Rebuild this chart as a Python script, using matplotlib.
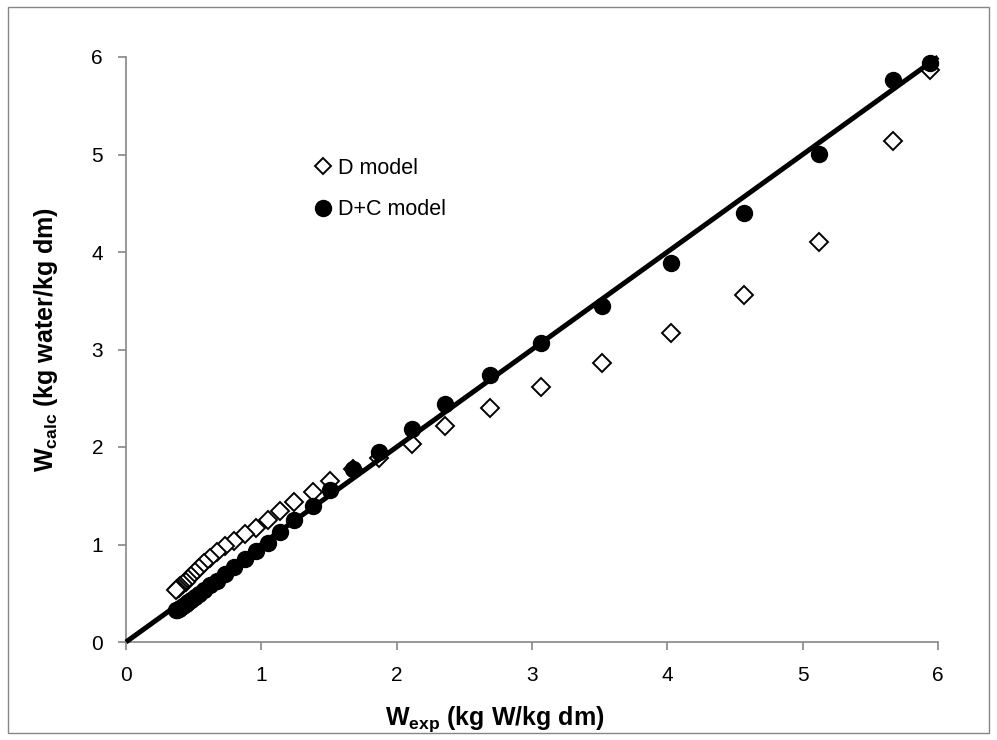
import matplotlib
matplotlib.use("Agg")
import matplotlib.pyplot as plt
from matplotlib.patches import Rectangle
from matplotlib.lines import Line2D

plt.rcParams['font.family'] = ['Liberation Sans', 'DejaVu Sans']
plt.rcParams['mathtext.fontset'] = 'custom'
plt.rcParams['mathtext.rm'] = 'Liberation Sans'
plt.rcParams['mathtext.bf'] = 'Liberation Sans:bold'

# Experimental moisture content (x)
w_exp = [5.94, 5.67, 5.12, 4.57, 4.03, 3.52, 3.07, 2.69, 2.36, 2.11, 1.87,
         1.68, 1.51, 1.38, 1.24, 1.14, 1.05, 0.96, 0.88, 0.80, 0.73, 0.67,
         0.62, 0.58, 0.54, 0.51, 0.48, 0.46, 0.44, 0.42, 0.40, 0.39, 0.38, 0.37]
# D model calculated values
w_calc_d = [5.87, 5.14, 4.10, 3.56, 3.17, 2.86, 2.62, 2.40, 2.22, 2.03, 1.89,
            1.77, 1.65, 1.54, 1.44, 1.34, 1.25, 1.17, 1.11, 1.04, 0.98, 0.92,
            0.86, 0.81, 0.76, 0.72, 0.68, 0.65, 0.62, 0.60, 0.57, 0.55, 0.54, 0.53]
# D+C model calculated values
w_calc_dc = [5.94, 5.76, 5.01, 4.40, 3.89, 3.45, 3.07, 2.74, 2.44, 2.18, 1.95,
             1.77, 1.56, 1.39, 1.25, 1.13, 1.02, 0.93, 0.85, 0.77, 0.70, 0.63,
             0.58, 0.53, 0.49, 0.46, 0.43, 0.41, 0.39, 0.37, 0.35, 0.34, 0.33, 0.33]
# 1:1 reference line
line_x = [0, 6]
line_y = [0, 6]
ticks = [0, 1, 2, 3, 4, 5, 6]

fig = plt.figure(figsize=(9.97, 7.40), dpi=100)
ax = fig.add_axes([126/997, 1 - 642/740, (938 - 126)/997, (642 - 57)/740])

ax.plot(w_exp, w_calc_d, linestyle='none', marker='D', markersize=9,
        markerfacecolor='white', markeredgecolor='black', markeredgewidth=1.4,
        zorder=3, clip_on=False, label='D model')
ax.plot(w_exp, w_calc_dc, linestyle='none', marker='o', markersize=11.5,
        markerfacecolor='black', markeredgecolor='black',
        zorder=4, clip_on=False, label='D+C model')
ax.plot(line_x, line_y, color='black', linewidth=3.6, zorder=5,
        solid_capstyle='butt', clip_on=False)

ax.set_xlim(0, 6)
ax.set_ylim(0, 6)
ax.set_xticks(ticks)
ax.set_yticks(ticks)
ax.set_xticklabels([str(t) for t in ticks])
ax.set_yticklabels([str(t) for t in ticks])

for s in ['top', 'right']:
    ax.spines[s].set_visible(False)
for s in ['left', 'bottom']:
    ax.spines[s].set_color('#868686')
    ax.spines[s].set_linewidth(1.2)
ax.tick_params(axis='both', direction='out', length=5.5, width=1.2,
               color='#868686', labelsize=15, labelcolor='black')
ax.tick_params(axis='x', pad=12)
ax.tick_params(axis='y', pad=11)

fig.text(495/997, 1 - 719/740, r'W$_{\mathbf{exp}}$ (kg W/kg dm)', fontsize=18,
         fontweight='bold', ha='center', va='center')
fig.text(46/997, 1 - 340/740, r'W$_{\mathbf{calc}}$ (kg water/kg dm)', fontsize=18,
         fontweight='bold', ha='center', va='center', rotation=90)

leg_handles = [
    Line2D([], [], linestyle='none', marker='D', markersize=8,
           markerfacecolor='white', markeredgecolor='black', markeredgewidth=1.4),
    Line2D([], [], linestyle='none', marker='o', markersize=11.5,
           markerfacecolor='black', markeredgecolor='black'),
]
fig.legend(leg_handles, ['D model', 'D+C model'], loc='upper left',
           bbox_to_anchor=(312/997, 1 - 158/740), frameon=False, fontsize=15.5,
           handlelength=1.0, handletextpad=0.2, labelspacing=0.95,
           borderpad=0, borderaxespad=0)

fig.patches.append(Rectangle((8/997, 7/740), (989 - 8)/997, (733 - 7)/740,
                             transform=fig.transFigure, fill=False,
                             edgecolor='#868686', linewidth=1.0))

fig.savefig('out.png', dpi=100)
